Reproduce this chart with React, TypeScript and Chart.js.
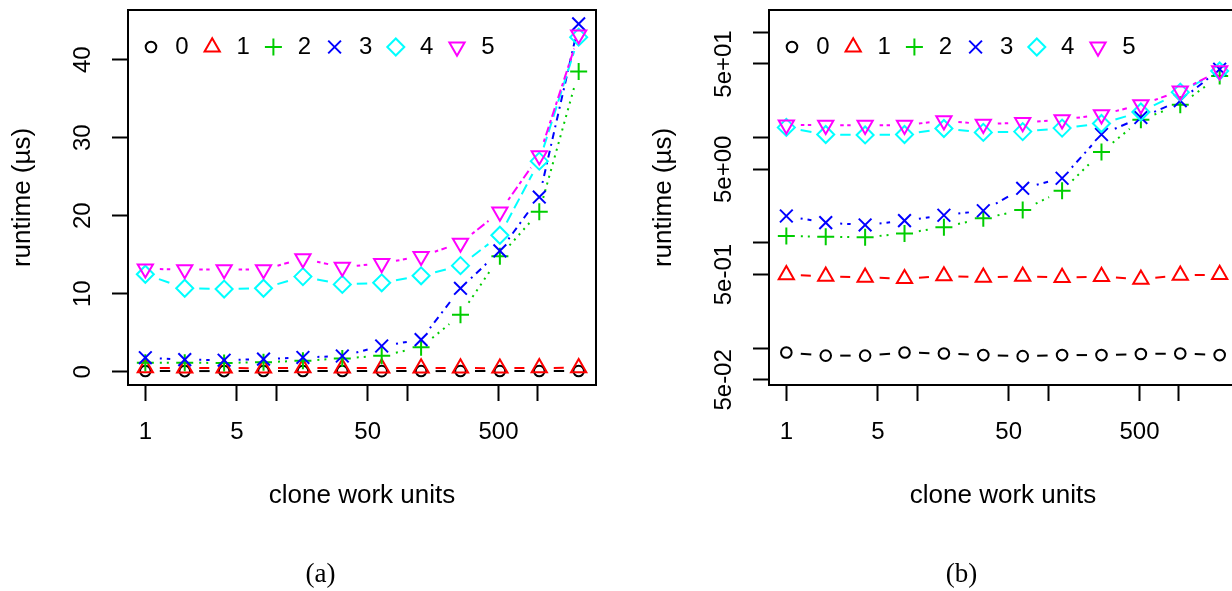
import React, { useEffect, useRef } from 'react';
import { Chart, registerables } from 'chart.js';
import { drawPoint } from 'chart.js/helpers';

Chart.register(...registerables);

// ---------------- data ----------------
const workUnits = [1, 2, 4, 8, 16, 32, 64, 128, 256, 512, 1024, 2048];
const seriesLabels = ['0', '1', '2', '3', '4', '5'];
const runtime0 = [0.091, 0.085, 0.085, 0.091, 0.089, 0.086, 0.084, 0.086, 0.086, 0.088, 0.089, 0.086];
const runtime1 = [0.498, 0.482, 0.471, 0.457, 0.485, 0.471, 0.482, 0.468, 0.478, 0.451, 0.492, 0.499];
const runtime2 = [1.16, 1.145, 1.13, 1.23, 1.41, 1.71, 2.05, 3.13, 7.3, 14.8, 20.5, 38.5];
const runtime3 = [1.8, 1.555, 1.48, 1.625, 1.83, 2.02, 3.3, 4.11, 10.7, 15.5, 22.4, 44.6];
const runtime4 = [12.5, 10.7, 10.6, 10.7, 12.2, 11.2, 11.4, 12.3, 13.6, 17.5, 27.0, 42.9];
const runtime5 = [13.2, 13.1, 13.1, 13.1, 14.5, 13.4, 13.9, 14.8, 16.5, 20.5, 27.7, 43.2];
const allSeries = [runtime0, runtime1, runtime2, runtime3, runtime4, runtime5];

const xTickValues = [1, 5, 10, 50, 100, 500, 1000];
const xTickLabels = ['1', '5', '', '50', '', '500', ''];
const linTickValues = [0, 10, 20, 30, 40];
const linTickLabels = ['0', '10', '20', '30', '40'];
const logTickValues = [0.05, 0.1, 0.5, 1, 5, 10, 50, 100];
const logTickLabels = ['5e-02', '', '5e-01', '', '5e+00', '', '5e+01', ''];

// ---------------- styles ----------------
const FONT = '"Liberation Sans", Arial, Helvetica, sans-serif';
const TICK_FONT = 24;
const TITLE_FONT = 26;
const seriesColors = ['#000000', '#FF0000', '#00CD00', '#0000FF', '#00FFFF', '#FF00FF'];
const seriesPointStyles = ['circle', 'triangle', 'cross', 'crossRot', 'rectRot', 'triangle'];
const seriesRotations = [0, 0, 0, 0, 0, 180];
const seriesRadii = [5.3, 8.8, 8.5, 9, 8.5, 8.8];
const seriesDashes: number[][] = [[], [10, 6], [2, 5], [2, 5, 7, 5], [11, 5], [3.5, 3.5, 9, 3.5]];
const LINE_W = 2;
const MARK_W = 2;
const GAP = 14.5;

const W = 641;
const H = 591;

function makeChart(canvas: HTMLCanvasElement, isLog: boolean) {
  const yTickValues = isLog ? logTickValues : linTickValues;
  const yTickLabels = isLog ? logTickLabels : linTickLabels;

  const datasets = allSeries.map((vals, i) => ({
    label: seriesLabels[i],
    data: workUnits.map((x, j) => ({ x, y: vals[j] })),
    showLine: false,
    borderColor: seriesColors[i],
    backgroundColor: 'rgba(0,0,0,0)',
    pointStyle: seriesPointStyles[i],
    pointRotation: seriesRotations[i],
    pointRadius: seriesRadii[i],
    pointHoverRadius: seriesRadii[i],
    pointBorderWidth: MARK_W,
    pointBorderColor: seriesColors[i],
    pointBackgroundColor: 'rgba(0,0,0,0)',
    order: allSeries.length - 1 - i,
  }));

  const rPlugin = {
    id: 'rStyle',
    beforeDatasetDraw(chart: any, args: any) {
      const { ctx, chartArea } = chart;
      const i = args.index;
      const pts = args.meta.data;
      ctx.save();
      ctx.beginPath();
      ctx.rect(chartArea.left, chartArea.top, chartArea.right - chartArea.left, chartArea.bottom - chartArea.top);
      ctx.clip();
      ctx.strokeStyle = seriesColors[i];
      ctx.lineWidth = LINE_W;
      ctx.lineCap = 'butt';
      ctx.setLineDash(seriesDashes[i]);
      for (let k = 0; k < pts.length - 1; k++) {
        const a = pts[k];
        const b = pts[k + 1];
        const dx = b.x - a.x;
        const dy = b.y - a.y;
        const len = Math.hypot(dx, dy);
        if (len <= 2 * GAP) continue;
        const ux = dx / len;
        const uy = dy / len;
        ctx.lineDashOffset = 0;
        ctx.beginPath();
        ctx.moveTo(a.x + ux * GAP, a.y + uy * GAP);
        ctx.lineTo(b.x - ux * GAP, b.y - uy * GAP);
        ctx.stroke();
      }
      ctx.restore();
    },
    afterDraw(chart: any) {
      const { ctx, chartArea } = chart;
      const ys = chart.scales.y;
      ctx.save();
      // box
      ctx.setLineDash([]);
      ctx.strokeStyle = '#000';
      ctx.lineWidth = 2;
      ctx.strokeRect(chartArea.left, chartArea.top, chartArea.right - chartArea.left, chartArea.bottom - chartArea.top);
      // y tick labels (parallel to axis)
      ctx.fillStyle = '#000';
      ctx.font = `${TICK_FONT}px ${FONT}`;
      ctx.textAlign = 'center';
      ctx.textBaseline = 'middle';
      yTickValues.forEach((v, k) => {
        if (!yTickLabels[k]) return;
        const py = ys.getPixelForValue(v);
        ctx.save();
        ctx.translate(chartArea.left - 45, py);
        ctx.rotate(-Math.PI / 2);
        ctx.fillText(yTickLabels[k], 0, 0);
        ctx.restore();
      });
      // legend
      seriesLabels.forEach((lab, i) => {
        const mx = chartArea.left + 23 + 61.2 * i;
        const my = chartArea.top + 37;
        ctx.strokeStyle = seriesColors[i];
        ctx.fillStyle = 'rgba(0,0,0,0)';
        ctx.lineWidth = MARK_W;
        drawPoint(ctx, { pointStyle: seriesPointStyles[i] as any, rotation: seriesRotations[i], radius: seriesRadii[i], borderWidth: MARK_W }, mx, my);
        ctx.fillStyle = '#000';
        ctx.textAlign = 'left';
        ctx.textBaseline = 'middle';
        ctx.fillText(lab, mx + 24.3, my);
      });
      ctx.restore();
    },
  };

  return new Chart(canvas, {
    type: 'line',
    data: { datasets: datasets as any },
    plugins: [rPlugin],
    options: {
      animation: false,
      responsive: false,
      maintainAspectRatio: false,
      devicePixelRatio: 1,
      events: [],
      layout: { padding: { top: 10, left: 0, right: 45, bottom: 0 }, autoPadding: false } as any,
      plugins: { legend: { display: false }, tooltip: { enabled: false } },
      scales: {
        x: {
          type: 'logarithmic',
          min: Math.pow(2, -0.44),
          max: Math.pow(2, 11.44),
          bounds: 'data',
          afterBuildTicks: (s: any) => {
            s.ticks = xTickValues.map((v) => ({ value: v }));
          },
          afterFit: (s: any) => {
            s.height = H - 10 - 375;
          },
          ticks: {
            autoSkip: false,
            maxRotation: 0,
            minRotation: 0,
            padding: 16.6,
            color: '#000',
            font: { family: FONT, size: TICK_FONT },
            callback: (_v: any, i: number) => xTickLabels[i],
          },
          grid: { display: true, drawOnChartArea: false, drawTicks: true, tickLength: 16, tickWidth: 2, tickColor: '#000' },
          border: { display: false },
          title: {
            display: true,
            text: 'clone work units',
            color: '#000',
            font: { family: FONT, size: TITLE_FONT },
            padding: { top: 0, bottom: 80 },
          },
        } as any,
        y: {
          type: isLog ? 'logarithmic' : 'linear',
          min: isLog ? 0.0447 : -1.7,
          max: isLog ? 162.8 : 46.38,
          bounds: 'data',
          afterBuildTicks: (s: any) => {
            s.ticks = yTickValues.map((v) => ({ value: v }));
          },
          afterFit: (s: any) => {
            s.width = 128;
          },
          ticks: { display: false },
          grid: { display: true, drawOnChartArea: false, drawTicks: true, tickLength: 16, tickWidth: 2, tickColor: '#000' },
          border: { display: false },
          title: {
            display: true,
            text: 'runtime (µs)',
            color: '#000',
            font: { family: FONT, size: TITLE_FONT },
            padding: { top: 7, bottom: 0 },
          },
        } as any,
      },
    },
  });
}

export default function App() {
  const refA = useRef<HTMLCanvasElement>(null);
  const refB = useRef<HTMLCanvasElement>(null);

  useEffect(() => {
    const a = makeChart(refA.current as HTMLCanvasElement, false);
    const b = makeChart(refB.current as HTMLCanvasElement, true);
    return () => {
      a.destroy();
      b.destroy();
    };
  }, []);

  const captionStyle: React.CSSProperties = {
    position: 'absolute',
    top: 558,
    width: W,
    textAlign: 'center',
    fontFamily: '"Liberation Serif", "Times New Roman", serif',
    fontSize: 27,
    lineHeight: '30px',
    color: '#000',
  };

  return (
    <div style={{ position: 'fixed', left: 0, top: 0, width: 1232, height: 591, overflow: 'hidden', background: '#fff' }}>
      <canvas ref={refA} width={W} height={H} style={{ position: 'absolute', left: 0, top: 0, width: W, height: H }} />
      <canvas ref={refB} width={W} height={H} style={{ position: 'absolute', left: W, top: 0, width: W, height: H }} />
      <div style={{ ...captionStyle, left: 0 }}>(a)</div>
      <div style={{ ...captionStyle, left: W }}>(b)</div>
    </div>
  );
}
